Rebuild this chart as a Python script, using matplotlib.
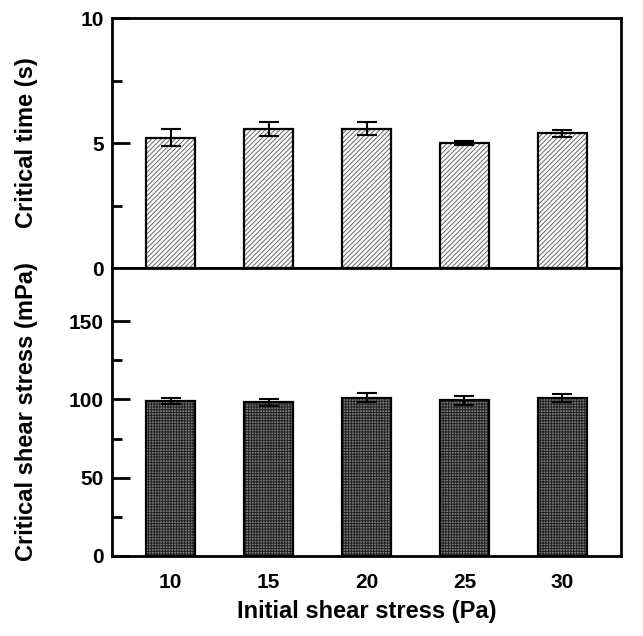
import numpy as np
import matplotlib.pyplot as plt
from matplotlib.ticker import MultipleLocator, FixedLocator

# initial shear stress (Pa)
stress = [10, 15, 20, 25, 30]
# critical time (s)
crit_time = [5.22, 5.56, 5.57, 5.02, 5.39]
crit_time_err = [0.35, 0.28, 0.26, 0.08, 0.14]
# critical shear stress (mPa)
crit_stress = [99.2, 98.1, 101.1, 99.4, 100.7]
crit_stress_err = [1.8, 2.0, 3.0, 2.8, 2.5]

plt.rcParams.update({
    'font.family': ['Liberation Sans', 'DejaVu Sans'],
    'font.weight': 'bold',
    'font.size': 15,
    'axes.labelweight': 'bold',
    'hatch.linewidth': 0.7,
})

fig = plt.figure(figsize=(6.43, 6.36), dpi=100)
ax1 = fig.add_axes([0.174, 0.5786, 0.792, 0.393])
ax2 = fig.add_axes([0.174, 0.1258, 0.792, 0.4528])

w = 2.5
# upper panel: hatched bars (hatch drawn grey, outline black on top)
ax1.bar(stress, crit_time, w, color='white', edgecolor='#666666', hatch='///////', lw=0, zorder=2)
ax1.bar(stress, crit_time, w, fill=False, edgecolor='black', lw=1.6, zorder=3)
ax1.errorbar(stress, crit_time, yerr=crit_time_err, fmt='none', ecolor='black',
             elinewidth=1.5, capsize=7, capthick=1.5, zorder=4)

# lower panel: dark cross-hatched bars
ax2.bar(stress, crit_stress, w, color='#7a7a7a', edgecolor='#222222', hatch='++++++', lw=0, zorder=2)
ax2.bar(stress, crit_stress, w, fill=False, edgecolor='black', lw=1.6, zorder=3)
ax2.errorbar(stress, crit_stress, yerr=crit_stress_err, fmt='none', ecolor='black',
             elinewidth=1.5, capsize=7, capthick=1.5, zorder=4)

ax1.set_ylim(0, 10)
ax1.yaxis.set_major_locator(MultipleLocator(5))
ax1.yaxis.set_minor_locator(MultipleLocator(2.5))
ax2.set_ylim(0, 184)
ax2.yaxis.set_major_locator(MultipleLocator(50))
ax2.yaxis.set_minor_locator(FixedLocator([25, 75, 125]))

for ax in (ax1, ax2):
    ax.set_xlim(7, 33)
    ax.set_xticks(stress)
    for s in ax.spines.values():
        s.set_linewidth(2)
    ax.tick_params(axis='y', which='major', direction='in', length=13, width=2, pad=6)
    ax.tick_params(axis='y', which='minor', direction='in', length=7, width=2)
    ax.tick_params(axis='x', length=0, pad=12)

ax1.tick_params(axis='x', labelbottom=False)

ax1.set_ylabel('Critical time (s)', fontsize=17)
ax2.set_ylabel('Critical shear stress (mPa)', fontsize=17)
ax1.yaxis.set_label_coords(-0.145, 0.5)
ax2.yaxis.set_label_coords(-0.145, 0.5)
ax2.set_xlabel('Initial shear stress (Pa)', fontsize=17, labelpad=6)

fig.savefig('out.png', dpi=100)
